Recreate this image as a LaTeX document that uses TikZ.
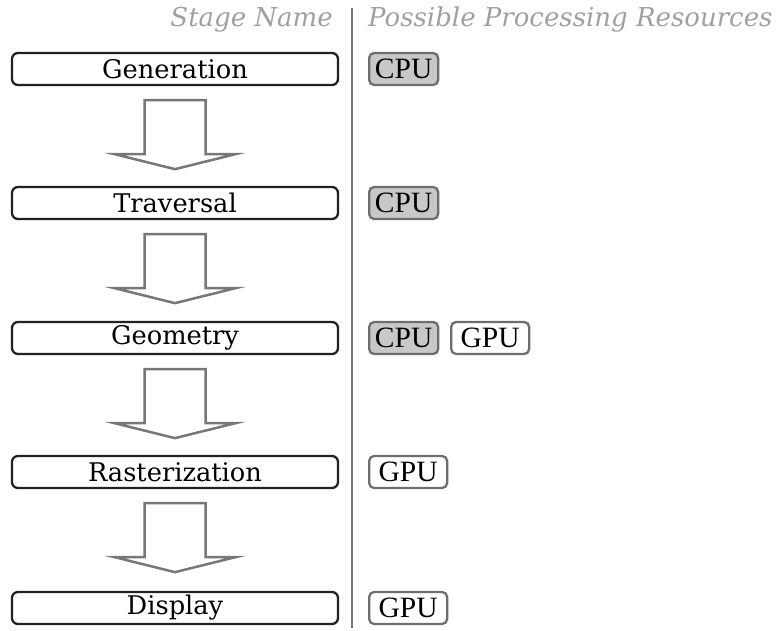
\documentclass[tikz,border=0pt]{standalone}
\usepackage{fontspec}
\setmainfont{DejaVu Serif}
\newfontfamily\resfont{Liberation Serif}
\usetikzlibrary{calc}
\definecolor{boxline}{HTML}{222222}
\definecolor{arrowline}{HTML}{777777}
\definecolor{headgray}{HTML}{A0A0A0}
\definecolor{resfill}{HTML}{C8C8C8}
\definecolor{resline}{HTML}{6E6E6E}
\tikzset{
  stagebox/.style={draw=boxline, line width=2.3pt, rounded corners=6pt, fill=white,
    minimum width=326pt, minimum height=32pt, inner sep=0pt,
    font=\fontsize{25.7}{28}\selectfont},
  resbox/.style={draw=resline, line width=2.3pt, rounded corners=5pt,
    minimum height=32pt, inner sep=0pt, anchor=west,
    font=\resfont\fontsize{29.5}{31}\selectfont},
  cpubox/.style={resbox, fill=resfill, minimum width=69pt},
  gpubox/.style={resbox, fill=white, minimum width=78pt},
  heading/.style={text=headgray, inner sep=0pt,
    font=\itshape\fontsize{26}{28}\selectfont},
  blockarrow/.style={draw=arrowline, line width=2.5pt, fill=white, line join=miter},
  sepline/.style={draw=arrowline, line width=2pt}
}
\newcommand{\stagearrow}[1]{%
  \coordinate (top#1) at ($(#1.south)+(0,14)$);
  \coordinate (tip#1) at ($(#1.south)+(0,83)$);
  \draw[blockarrow] ($(top#1)+(-30.5,0)$) -- ($(top#1)+(30.5,0)$)
    -- ($(tip#1)+(30.5,-15)$) -- ($(tip#1)+(60.5,-15)$) -- (tip#1)
    -- ($(tip#1)+(-60.5,-15)$) -- ($(tip#1)+(-30.5,-15)$) -- cycle;}
\begin{document}
\begin{tikzpicture}[x=1pt,y=-1pt]
\useasboundingbox (0,0) rectangle (779,631);
% headings
\node[heading, anchor=base east] (hstage) at (333,27) {Stage Name};
\node[heading, anchor=base west] (hres) at (368,27) {Possible Processing Resources};
% separator
\coordinate (septop) at (352,8);
\coordinate (sepbot) at (352,628);
\draw[sepline] (septop) -- (sepbot);
% stages
\node[stagebox] (gen) at (175,69) {Generation};
\node[stagebox] (trav) at (175,203) {Traversal};
\node[stagebox] (geom) at (175,338) {Geometry};
\node[stagebox] (rast) at (175,472) {Rasterization};
\node[stagebox] (disp) at (175,608) {Display};
% arrows
\stagearrow{gen}
\stagearrow{trav}
\stagearrow{geom}
\stagearrow{rast}
% resources
\node[cpubox] (cpu1) at (368,69) {CPU};
\node[cpubox] (cpu2) at (368,203) {CPU};
\node[cpubox] (cpu3) at (368,338) {CPU};
\node[gpubox] (gpu3) at (450,338) {GPU};
\node[gpubox] (gpu4) at (368,472) {GPU};
\node[gpubox] (gpu5) at (368,608) {GPU};
\end{tikzpicture}
\end{document}
